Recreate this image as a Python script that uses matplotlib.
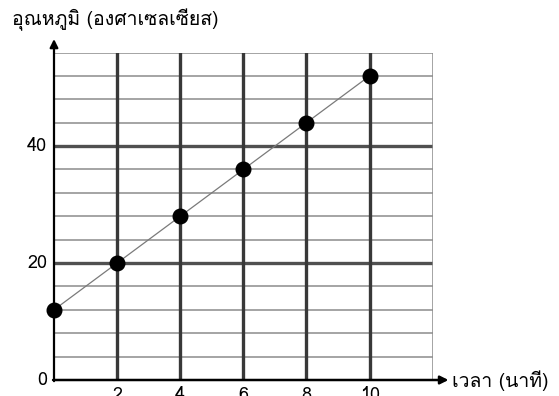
import matplotlib
matplotlib.use("Agg")
import matplotlib.pyplot as plt
from matplotlib import font_manager as fm
from matplotlib.ft2font import FT2Font

# หาฟอนต์ที่มีอักษรไทย
thai_font = None
for f in fm.fontManager.ttflist:
    try:
        if ord('อ') in FT2Font(f.fname).get_charmap():
            thai_font = f.name
            break
    except Exception:
        pass
fams = [thai_font, 'DejaVu Sans'] if thai_font else ['DejaVu Sans']
plt.rcParams['font.family'] = fams

# data
time_min = [0, 2, 4, 6, 8, 10]
temp_c = [12, 20, 28, 36, 44, 52]
xticks = [2, 4, 6, 8, 10]
yticks = [0, 20, 40]
ylabel = 'อุณหภูมิ (องศาเซลเซียส)'
xlabel = 'เวลา (นาที)'

W, H = 559, 396
fig = plt.figure(figsize=(W / 100, H / 100), dpi=100)
x0, x1 = 54, 432.7
y0, y1 = 380, 52.5
ax = fig.add_axes([x0 / W, 1 - y0 / H, (x1 - x0) / W, (y0 - y1) / H])
ax.set_xlim(0, 12)
ax.set_ylim(0, 56)
ax.axis('off')

# เส้นตาราง
for y in range(4, 57, 4):
    if y % 20 == 0:
        ax.axhline(y, color='#505050', lw=2.4, zorder=1)
    else:
        ax.axhline(y, color='#8c8c8c', lw=1.1, zorder=1)
for x in range(2, 11, 2):
    ax.axvline(x, color='#383838', lw=2.4, zorder=2)
ax.axvline(12, color='#8c8c8c', lw=1.1, zorder=1)

# แกน
ax.annotate('', xy=(12.5, 0), xytext=(-0.03, 0), annotation_clip=False,
            arrowprops=dict(arrowstyle='-|>', color='black', lw=1.8,
                            mutation_scale=12, shrinkA=0, shrinkB=0))
ax.annotate('', xy=(0, 58.3), xytext=(0, -0.2), annotation_clip=False,
            arrowprops=dict(arrowstyle='-|>', color='black', lw=1.6,
                            mutation_scale=12, shrinkA=0, shrinkB=0))

ax.plot(time_min, temp_c, color='#7a7a7a', lw=0.9, zorder=3)
ax.plot(time_min, temp_c, 'o', color='black', ms=10.5, zorder=4, clip_on=False)

for v in yticks:
    ax.text(-0.22, v, str(v), ha='right', va='center', fontsize=13, clip_on=False)
for v in xticks:
    ax.text(v, -1.1, str(v), ha='center', va='top', fontsize=13, clip_on=False)

fig.text(12 / W, 1 - 20 / H, ylabel, ha='left', va='center', fontsize=14)
fig.text(452 / W, 1 - 381 / H, xlabel, ha='left', va='center', fontsize=14)

fig.savefig('out.png', dpi=100)
